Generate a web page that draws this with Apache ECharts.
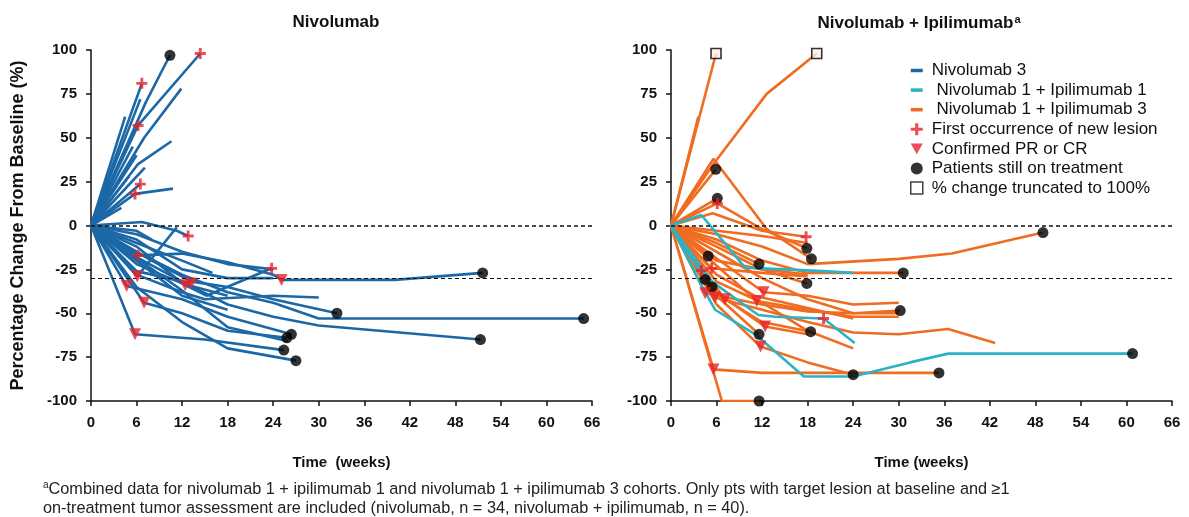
<!DOCTYPE html>
<html><head><meta charset="utf-8">
<script src="https://cdn.jsdelivr.net/npm/echarts/dist/echarts.min.js"></script>
<style>html,body{margin:0;padding:0;background:#fff}#c{width:1189px;height:517px}</style>
</head><body><div id="c"></div>
<script>
// ---------- DATA ----------
const xTicks = {min: 0, max: 66, interval: 6};
const yTicks = {min: -100, max: 100, interval: 25};
const refLevels = [0, -30];

// Nivolumab panel: each patient path [week, % change]
const nivoPaths = [
  [[0,0],[7.2,70],[10.4,97]],
  [[0,0],[6.7,81]],
  [[0,0],[6.2,57],[14.4,98]],
  [[0,0],[7,50],[11.9,78]],
  [[0,0],[6.2,35],[10.6,48]],
  [[0,0],[4.5,62]],
  [[0,0],[6.5,72]],
  [[0,0],[5.5,45]],
  [[0,0],[7.1,33]],
  [[0,0],[6,40]],
  [[0,0],[6.5,23.6]],
  [[0,0],[5.8,18],[10.8,21]],
  [[0,0],[5,28]],
  [[0,0],[6.7,2],[11.3,-3],[12.8,-6]],
  [[0,0],[6.1,-29],[11.3,-1]],
  [[0,0],[6.2,-17],[12,-16],[18,-21],[24,-28],[25.1,-31],[40,-31],[51.6,-27]],
  [[0,0],[6,-12],[12.4,-34],[15.2,-40],[23.8,-24.4]],
  [[0,0],[8,-20],[13.3,-32],[18,-35],[24,-42],[32.4,-50]],
  [[0,0],[6,-15],[12,-28],[18,-38],[24,-44],[30,-53],[64.9,-53]],
  [[0,0],[6,-18],[12,-32],[18,-45],[24,-52],[30,-57],[51.3,-65]],
  [[0,0],[4.7,-34.5],[12,-42],[18,-52],[26.4,-62]],
  [[0,0],[7,-44],[12,-50],[18,-60],[25.8,-64]],
  [[0,0],[5.8,-62],[15,-65],[25.4,-71]],
  [[0,0],[6,-35],[12,-55],[18,-70],[27,-77]],
  [[0,0],[6,-8],[12,-25],[18,-30],[24,-30]],
  [[0,0],[6,-22],[12,-33],[18,-40]],
  [[0,0],[6,-5],[12,-15],[18,-22],[24,-25]],
  [[0,0],[6,-10],[12,-20],[16,-27]],
  [[0,0],[6,-26],[13.2,-33]],
  [[0,0],[6,-20],[12,-40],[18,-48]],
  [[0,0],[6,-3],[8,-8]],
  [[0,0],[6,-28],[12,-38],[15,-42],[24,-40],[30,-41]],
  [[0,0],[12,-37],[18,-58],[26,-66]],
  [[0,0],[4,10]]
];
const nivoNewLesion = [[6.7,81],[6.2,57],[14.4,98],[6.5,23.6],[5.8,18],[12.8,-6],[6.2,-17],[23.8,-24.4]];
const nivoResponse = [[6.1,-29],[4.7,-34.5],[7,-44],[5.8,-62],[12.4,-34],[13.2,-33],[25.1,-31]];
const nivoOnTreatment = [[10.4,97],[51.6,-27],[32.4,-50],[64.9,-53],[51.3,-65],[26.4,-62],[25.8,-64],[25.4,-71],[27,-77]];

// Nivolumab + Ipilimumab panel
const comboIpi1Paths = [
  [[0,0],[4,6],[9.75,-24],[20,-26],[24,-27]],
  [[0,0],[5.4,-32],[11.5,-51],[13.7,-52],[20.1,-53],[24.2,-67]],
  [[0,0],[4,-34],[5.8,-48],[11.1,-62],[17.5,-86],[24,-86],[31.5,-78],[36.5,-73],[60.8,-73]],
  [[0,0],[4.5,-30.7]]
];
const comboIpi3Paths = [
  [[0,0],[5.93,98]],
  [[0,0],[5.6,35],[12.6,75],[19.2,98]],
  [[0,0],[3.6,62]],
  [[0,0],[5.9,32]],
  [[0,0],[5.6,38],[12.6,-2],[18.5,-19]],
  [[0,0],[6.1,15.5]],
  [[0,0],[6.1,12.6],[12,-2],[17.9,-13]],
  [[0,0],[5.5,7],[12,-3],[17.8,-6.4]],
  [[0,0],[4.9,-17.4]],
  [[0,0],[6,-10],[11.6,-22]],
  [[0,0],[6,-8],[12,-20],[18,-27],[24,-27],[30.6,-27]],
  [[0,0],[6,-5],[12,-12],[18,-22],[30,-19],[37,-16],[49,-4]],
  [[0,0],[6,-12],[12,-25],[17.9,-33]],
  [[0,0],[4,-25.7]],
  [[0,0],[5.35,-24.4],[12,-27],[18,-29]],
  [[0,0],[5.4,-35]],
  [[0,0],[4.5,-38.6],[12,-45],[18,-49],[24,-50],[30.2,-48.5]],
  [[0,0],[5.8,-41],[12,-48],[18,-55],[24,-61],[30,-62],[36.5,-59],[42.7,-67]],
  [[0,0],[7.1,-42],[12,-55],[18.4,-60.5]],
  [[0,0],[11.3,-43],[18,-48],[24,-52],[30,-52]],
  [[0,0],[12.2,-38],[18,-40],[24,-45],[30,-44]],
  [[0,0],[6,-38],[12.4,-57.6],[18,-62]],
  [[0,0],[6,-40],[11.6,-62]],
  [[0,0],[6,-45],[11.8,-69],[18,-78],[24,-85]],
  [[0,0],[5.6,-82],[12,-84],[35.3,-84]],
  [[0,0],[6.7,-100],[11.6,-100]],
  [[0,0],[12,-30],[18,-42],[24,-50],[30,-50]],
  [[0,0],[6,-3],[12,-6],[18,-10]],
  [[0,0],[6,-20],[12,-25],[18,-28]],
  [[0,0],[6,-28],[11,-40],[18,-47],[24,-53]],
  [[0,0],[6,-32],[12,-44],[18,-60],[24,-70]]
];
const comboNewLesion = [[6.1,12.6],[17.8,-6.4],[4,-25.7],[5.35,-24.4],[20.1,-53]];
const comboResponse = [[4.5,-38.6],[5.8,-41],[7.1,-42],[11.3,-43],[12.2,-38],[12.4,-57.6],[11.8,-69],[5.6,-82]];
const comboOnTreatment = [[5.9,32],[6.1,15.5],[17.9,-13],[18.5,-19],[4.9,-17.4],[11.6,-22],[30.6,-27],[49,-4],[17.9,-33],[4.5,-30.7],[5.4,-35],[30.2,-48.5],[18.4,-60.5],[11.6,-62],[24,-85],[35.3,-84],[11.6,-100],[60.8,-73]];
const comboTruncated = [[5.93,98],[19.2,98]];

const titles = ['Nivolumab', 'Nivolumab + Ipilimumab'];
const xNames = ['Time  (weeks)', 'Time (weeks)'];
const yName = 'Percentage Change From Baseline (%)';
const legendNames = ['Nivolumab 3', ' Nivolumab 1 + Ipilimumab 1', ' Nivolumab 1 + Ipilimumab 3',
  'First occurrence of new lesion', 'Confirmed PR or CR', 'Patients still on treatment', '% change truncated to 100%'];
const footnote = ['Combined data for nivolumab 1 + ipilimumab 1 and nivolumab 1 + ipilimumab 3 cohorts. Only pts with target lesion at baseline and \u22651',
  'on-treatment tumor assessment are included (nivolumab, n = 34, nivolumab + ipilimumab, n = 40).'];

// ---------- STYLE ----------
const FONT = '"Liberation Sans", Arial, sans-serif';
const C_BLUE = '#1c68a6', C_CYAN = '#2bb3c4', C_ORANGE = '#ef6c21', C_RED = '#e8222b';
const PLUS = 'path://M3.7,0H6.3V3.7H10V6.3H6.3V10H3.7V6.3H0V3.7H3.7Z';
const TRI = 'path://M0,0H10L5,9Z';
const DASH = 'path://M0,0H12V3.5H0Z';

function lines(paths, name, color, gi) {
  return paths.map(p => ({
    type: 'line', name, xAxisIndex: gi, yAxisIndex: gi, data: p, symbol: 'none',
    lineStyle: {color, width: 2.6}, itemStyle: {color}, z: 2, silent: true
  }));
}
function marks(data, name, gi, symbol, size, style) {
  return {type: 'scatter', name, xAxisIndex: gi, yAxisIndex: gi, data, symbol, symbolSize: size,
    itemStyle: style, z: 5, silent: true};
}
function refSeries(gi) {
  return {type: 'line', name: 'ref' + gi, xAxisIndex: gi, yAxisIndex: gi, data: [], z: 3,
    markLine: {silent: true, symbol: 'none', label: {show: false},
      data: refLevels.map((v, i) => ({yAxis: v, lineStyle: {color: '#111', type: [4, 3], width: i === 0 ? 1.6 : 1.1}}))}};
}

const series = [
  refSeries(0), refSeries(1),
  ...lines(nivoPaths, legendNames[0], C_BLUE, 0),
  ...lines(comboIpi3Paths, legendNames[2], C_ORANGE, 1),
  ...lines(comboIpi1Paths, legendNames[1], C_CYAN, 1),
  marks(nivoOnTreatment, legendNames[5], 0, 'circle', 11, {color: '#000'}),
  marks(comboOnTreatment, legendNames[5], 1, 'circle', 11, {color: '#000'}),
  marks(nivoResponse, legendNames[4], 0, TRI, 12, {color: C_RED}),
  marks(comboResponse, legendNames[4], 1, TRI, 12, {color: C_RED}),
  marks(nivoNewLesion, legendNames[3], 0, PLUS, 11, {color: C_RED}),
  marks(comboNewLesion, legendNames[3], 1, PLUS, 11, {color: C_RED}),
  marks(comboTruncated, legendNames[6], 1, 'rect', 10, {color: '#fbeee6', borderColor: '#000', borderWidth: 1.6})
];

const axisCommon = {
  axisLine: {show: true, onZero: false, lineStyle: {color: '#111', width: 1.5}},
  axisTick: {show: true, inside: false, length: 5, lineStyle: {color: '#111', width: 1.5}},
  splitLine: {show: false}
};
const xAxes = [0, 1].map(i => Object.assign({
  type: 'value', gridIndex: i, min: xTicks.min, max: xTicks.max, interval: xTicks.interval,
  name: xNames[i], nameLocation: 'middle', nameGap: 54,
  nameTextStyle: {fontFamily: FONT, fontWeight: 'bold', fontSize: 15, color: '#111'},
  axisLabel: {fontFamily: FONT, fontWeight: 'bold', fontSize: 15, color: '#111', margin: 14}
}, axisCommon));
const yAxes = [0, 1].map(i => Object.assign({
  type: 'value', gridIndex: i, min: yTicks.min, max: yTicks.max, interval: yTicks.interval,
  name: i === 0 ? yName : '', nameLocation: 'middle', nameGap: 64,
  nameTextStyle: {fontFamily: FONT, fontWeight: 'bold', fontSize: 18, color: '#111'},
  axisLabel: {fontFamily: FONT, fontWeight: 'bold', fontSize: 15, color: '#111', margin: 14}
}, axisCommon));

const legendIcons = [DASH, DASH, DASH, PLUS, TRI, 'circle', 'rect'];
const legendStyles = [{color: C_BLUE}, {color: C_CYAN}, {color: C_ORANGE}, {color: C_RED}, {color: C_RED},
  {color: '#000'}, {color: '#fff', borderColor: '#111', borderWidth: 1.5}];

const chart = echarts.init(document.getElementById('c'), null, {renderer: 'canvas'});
chart.setOption({
  animation: false,
  backgroundColor: '#fff',
  textStyle: {fontFamily: FONT},
  title: [
    {text: titles[0], left: 331, top: 9, textAlign: 'center',
      textStyle: {fontFamily: FONT, fontWeight: 'bold', fontSize: 17, color: '#111'}},
    {text: '{m|' + titles[1] + '}{s|a}', left: 914, top: 9, textAlign: 'center',
      textStyle: {rich: {m: {fontFamily: FONT, fontWeight: 'bold', fontSize: 17, color: '#111'},
        s: {fontFamily: FONT, fontWeight: 'bold', fontSize: 11, color: '#111', verticalAlign: 'top', padding: [0, 0, 8, 1]}}}},
    {text: '{s|a}{t|' + footnote[0] + '}\n{t|' + footnote[1] + '}', left: 38, top: 475,
      textStyle: {fontWeight: 'normal', rich: {t: {fontFamily: FONT, fontWeight: 'normal', fontSize: 16.3, color: '#222', lineHeight: 19},
        s: {fontFamily: FONT, fontWeight: 'normal', fontSize: 10, color: '#222', verticalAlign: 'top', lineHeight: 19, padding: [0, 0, 6, 0]}}}}
  ],
  grid: [
    {left: 91, width: 501, top: 50, height: 351},
    {left: 671, width: 501, top: 50, height: 351}
  ],
  xAxis: xAxes,
  yAxis: yAxes,
  legend: {
    orient: 'vertical', left: 905, top: 57, itemWidth: 12, itemHeight: 12, itemGap: 2.6,
    selectedMode: false,
    textStyle: {fontFamily: FONT, fontSize: 17, color: '#111', lineHeight: 17, padding: [0, 0, 0, 4]},
    data: legendNames.map((n, i) => ({name: n, icon: legendIcons[i], itemStyle: legendStyles[i]}))
  },
  series
});
</script></body></html>
